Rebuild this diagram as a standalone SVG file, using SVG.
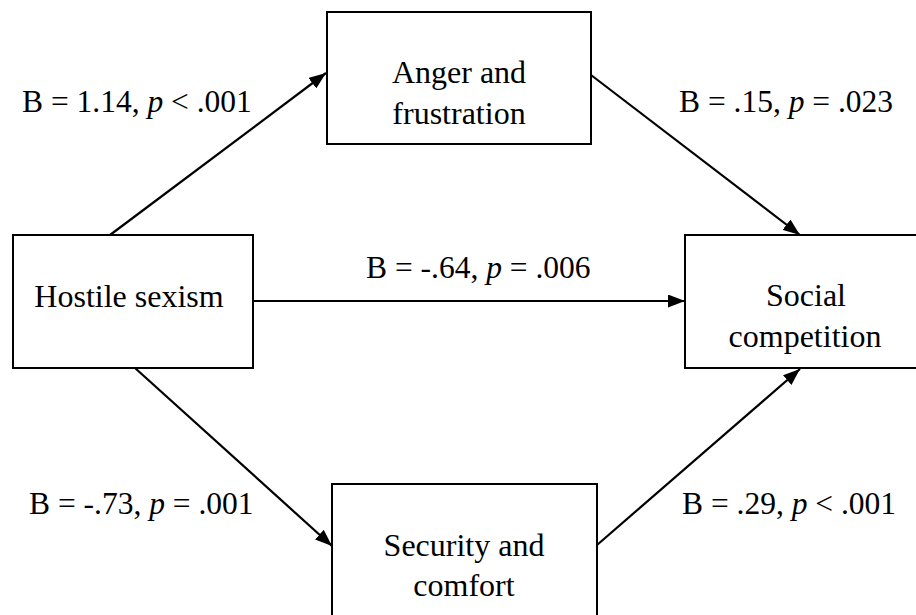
<svg xmlns="http://www.w3.org/2000/svg" width="916" height="615" viewBox="0 0 916 615">
  <style>
    .box { fill: #ffffff; stroke: #000000; stroke-width: 2; }
    .edge { stroke: #000000; stroke-width: 2.2; fill: none; }
    .lbl { font-family: "Liberation Serif", "Times New Roman", serif; font-size: 31.5px; fill: #000000; }
    .nd { font-family: "Liberation Serif", "Times New Roman", serif; font-size: 32px; fill: #000000; text-anchor: middle; }
    .it { font-style: italic; }
  </style>
  <defs>
    <marker id="arrow" markerUnits="userSpaceOnUse" markerWidth="17" markerHeight="13" refX="17" refY="6.5" orient="auto">
      <path d="M0,0 L17,6.5 L0,13 Z" fill="#000000"/>
    </marker>
  </defs>
  <rect width="916" height="615" fill="#ffffff"/>

  <!-- paths between the constructs -->
  <g id="connectors" marker-end="url(#arrow)">
    <line class="edge" x1="110" y1="235" x2="326" y2="73" marker-end="url(#arrow)"/>
    <line class="edge" x1="591" y1="75" x2="800" y2="235" marker-end="url(#arrow)"/>
    <line class="edge" x1="254" y1="301" x2="685" y2="301" stroke-width="2.6" marker-end="url(#arrow)"/>
    <line class="edge" x1="135" y1="368" x2="332" y2="546" marker-end="url(#arrow)"/>
    <line class="edge" x1="597" y1="545" x2="800" y2="369" marker-end="url(#arrow)"/>
  </g>

  <!-- path coefficients -->
  <g id="labels">
    <text class="lbl" x="22" y="112">B = 1.14, <tspan class="it">p</tspan> &lt; .001</text>
    <text class="lbl" x="679" y="112">B = .15, <tspan class="it">p</tspan> = .023</text>
    <text class="lbl" x="366" y="278">B = -.64, <tspan class="it">p</tspan> = .006</text>
    <text class="lbl" x="29" y="514">B = -.73, <tspan class="it">p</tspan> = .001</text>
    <text class="lbl" x="682" y="514">B = .29, <tspan class="it">p</tspan> &lt; .001</text>
  </g>

  <g id="anger">
    <rect class="box" x="327" y="12" width="264" height="132"/>
    <text class="nd" x="459" y="83">Anger and</text>
    <text class="nd" x="459" y="124">frustration</text>
  </g>

  <g id="hostile">
    <rect class="box" x="13" y="235" width="240" height="133"/>
    <text class="nd" x="129" y="307">Hostile sexism</text>
  </g>

  <g id="social">
    <rect class="box" x="685" y="235" width="240" height="133"/>
    <text class="nd" x="806" y="306">Social</text>
    <text class="nd" x="805" y="347">competition</text>
  </g>

  <g id="security">
    <rect class="box" x="332" y="484" width="265" height="140"/>
    <text class="nd" x="464" y="556">Security and</text>
    <text class="nd" x="464" y="596">comfort</text>
  </g>
</svg>
